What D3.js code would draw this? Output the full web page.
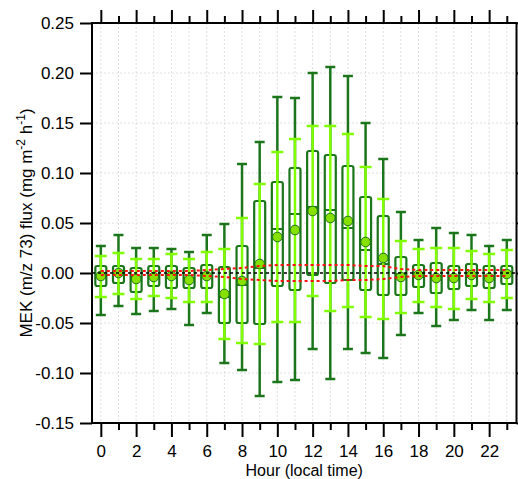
<!DOCTYPE html>
<html>
<head>
<meta charset="utf-8">
<script src="https://cdn.jsdelivr.net/npm/d3@7"></script>
<style>
  body { margin: 0; background: #fff; }
  svg { display: block; font-family: Arial, "Liberation Sans", sans-serif; }
</style>
</head>
<body>
<div id="chart"></div>
<script>
// hourly flux statistics (mg m-2 h-1)
var hours = [0,1,2,3,4,5,6,7,8,9,10,11,12,13,14,15,16,17,18,19,20,21,22,23];
var darkHigh = [0.027,0.038,0.025,0.025,0.024,0.021,0.038,0.049,0.109,0.131,0.176,0.175,0.200,0.206,0.197,0.150,0.114,0.061,0.033,0.045,0.040,0.038,0.027,0.033];
var limeHigh = [0.017,0.020,0.014,0.014,0.019,0.014,0.021,0.024,0.055,0.089,0.121,0.134,0.147,0.147,0.139,0.106,0.074,0.032,0.024,0.025,0.025,0.022,0.019,0.023];
var boxHigh = [0.007,0.007,0.005,0.007,0.007,0.005,0.008,0.006,0.027,0.072,0.091,0.105,0.122,0.118,0.107,0.076,0.057,0.016,0.008,0.010,0.007,0.009,0.007,0.007];
var medians = [-0.002,-0.001,-0.004,-0.003,-0.002,-0.005,-0.002,-0.024,-0.012,0.005,0.044,0.059,0.066,0.063,0.045,0.023,0.009,-0.001,-0.002,-0.003,-0.003,-0.002,-0.003,-0.001];
var boxLow = [-0.013,-0.010,-0.019,-0.013,-0.015,-0.015,-0.015,-0.050,-0.050,-0.051,-0.013,-0.017,-0.002,-0.010,-0.007,-0.017,-0.022,-0.022,-0.014,-0.020,-0.016,-0.013,-0.015,-0.011];
var limeLow = [-0.024,-0.021,-0.026,-0.023,-0.025,-0.029,-0.029,-0.066,-0.070,-0.071,-0.049,-0.049,-0.023,-0.038,-0.034,-0.044,-0.046,-0.040,-0.029,-0.034,-0.036,-0.026,-0.029,-0.025];
var darkLow = [-0.042,-0.033,-0.041,-0.038,-0.036,-0.052,-0.040,-0.090,-0.097,-0.123,-0.109,-0.107,-0.076,-0.106,-0.076,-0.080,-0.085,-0.062,-0.040,-0.053,-0.047,-0.037,-0.047,-0.037];
var means = [-0.003,0.000,-0.006,-0.004,-0.003,-0.007,-0.003,-0.021,-0.008,0.009,0.036,0.043,0.062,0.055,0.052,0.031,0.015,-0.004,-0.002,-0.005,-0.005,-0.002,-0.005,-0.001];
// detection limit band (red dotted)
var lodUpper = [0.002,0.002,0.002,0.002,0.002,0.002,0.003,0.004,0.005,0.007,0.008,0.008,0.008,0.008,0.008,0.007,0.007,0.004,0.003,0.003,0.003,0.003,0.003,0.003];
var lodLower = [-0.002,-0.002,-0.002,-0.002,-0.002,-0.002,-0.003,-0.004,-0.006,-0.007,-0.008,-0.008,-0.008,-0.008,-0.007,-0.007,-0.006,-0.004,-0.003,-0.003,-0.003,-0.003,-0.003,-0.003];
var yTicks = [-0.15,-0.10,-0.05,0.00,0.05,0.10,0.15,0.20,0.25];
var xMajor = [0,2,4,6,8,10,12,14,16,18,20,22];
var xMinor = [1,3,5,7,9,11,13,15,17,19,21,23];

(function() {
  var W = 518, H = 479,
      pl = 92, pr = 516.5, pt = 23, pb = 423;
  var dark = '#1b751b', lime = '#80ff00', meanFill = '#86e000';

  var x = d3.scaleLinear().domain([-0.5, 23.55]).range([pl, pr]);
  var y = d3.scaleLinear().domain([-0.15, 0.25]).range([pb, pt]);

  var svg = d3.select('#chart').append('svg')
      .attr('width', W)
      .attr('height', H);

  var data = hours.map(function(h, i) {
    return {h: h, dh: darkHigh[i], lh: limeHigh[i], q3: boxHigh[i], med: medians[i],
            q1: boxLow[i], ll: limeLow[i], dl: darkLow[i], mean: means[i]};
  });

  // grid
  var grid = svg.append('g').attr('stroke', '#dedede').attr('stroke-width', 1).attr('stroke-dasharray', '2,2');
  grid.selectAll('line.v').data(hours).enter().append('line')
    .attr('x1', function(d){ return x(d); }).attr('x2', function(d){ return x(d); })
    .attr('y1', pt).attr('y2', pb);
  grid.selectAll('line.h').data(yTicks).enter().append('line')
    .attr('x1', pl).attr('x2', pr)
    .attr('y1', function(d){ return y(d); }).attr('y2', function(d){ return y(d); });

  var fmt = d3.format('.2f');
  function label(d) { return fmt(d).replace('\u2212', '-'); }

  // axes
  function styleAxis(g) {
    g.select('.domain').remove();
    g.selectAll('.tick line').attr('stroke', '#000').attr('stroke-width', 2);
    g.selectAll('.tick text').attr('font-size', 17).attr('fill', '#000')
      .attr('font-family', 'Arial, "Liberation Sans", sans-serif');
  }
  svg.append('g').attr('transform', 'translate(' + pl + ',0)')
    .call(d3.axisLeft(y).tickValues(yTicks).tickSize(12).tickPadding(6).tickFormat(label))
    .call(styleAxis);
  svg.append('g').attr('transform', 'translate(' + pr + ',0)')
    .call(d3.axisRight(y).tickValues(yTicks).tickSize(6).tickFormat(''))
    .call(styleAxis);
  svg.append('g').attr('transform', 'translate(0,' + pb + ')')
    .call(d3.axisBottom(x).tickValues(xMajor).tickSize(14).tickPadding(8).tickFormat(d3.format('d')))
    .call(styleAxis);
  svg.append('g').attr('transform', 'translate(0,' + pb + ')')
    .call(d3.axisBottom(x).tickValues(xMinor).tickSize(7).tickFormat(''))
    .call(styleAxis);
  svg.append('g').attr('transform', 'translate(0,' + pt + ')')
    .call(d3.axisTop(x).tickValues(xMajor).tickSize(13).tickFormat(''))
    .call(styleAxis);
  svg.append('g').attr('transform', 'translate(0,' + pt + ')')
    .call(d3.axisTop(x).tickValues(xMinor).tickSize(7).tickFormat(''))
    .call(styleAxis);

  // boxes
  var g = svg.selectAll('g.hour').data(data).enter().append('g').attr('class', 'hour');
  var capD = 5, capL = 6, halfBox = 5.5;

  g.append('line').attr('stroke', dark).attr('stroke-width', 2.5)
    .attr('x1', function(d){ return x(d.h); }).attr('x2', function(d){ return x(d.h); })
    .attr('y1', function(d){ return y(d.dh); }).attr('y2', function(d){ return y(d.dl); });
  ['dh', 'dl'].forEach(function(k) {
    g.append('line').attr('stroke', dark).attr('stroke-width', 2.5)
      .attr('x1', function(d){ return x(d.h) - capD; }).attr('x2', function(d){ return x(d.h) + capD; })
      .attr('y1', function(d){ return y(d[k]); }).attr('y2', function(d){ return y(d[k]); });
  });

  g.append('rect').attr('fill', '#fff').attr('stroke', dark).attr('stroke-width', 2.2)
    .attr('rx', 2).attr('ry', 2)
    .attr('x', function(d){ return x(d.h) - halfBox; }).attr('width', halfBox * 2)
    .attr('y', function(d){ return y(d.q3); })
    .attr('height', function(d){ return y(d.q1) - y(d.q3); });

  g.append('line').attr('stroke', dark).attr('stroke-width', 2)
    .attr('x1', function(d){ return x(d.h) - halfBox; }).attr('x2', function(d){ return x(d.h) + halfBox; })
    .attr('y1', function(d){ return y(d.med); }).attr('y2', function(d){ return y(d.med); });

  g.append('line').attr('stroke', lime).attr('stroke-width', 2.5)
    .attr('x1', function(d){ return x(d.h); }).attr('x2', function(d){ return x(d.h); })
    .attr('y1', function(d){ return y(d.lh); }).attr('y2', function(d){ return y(d.ll); });
  ['lh', 'll'].forEach(function(k) {
    g.append('line').attr('stroke', lime).attr('stroke-width', 2.5)
      .attr('x1', function(d){ return x(d.h) - capL; }).attr('x2', function(d){ return x(d.h) + capL; })
      .attr('y1', function(d){ return y(d[k]); }).attr('y2', function(d){ return y(d[k]); });
  });

  // zero line
  svg.append('line').attr('stroke', '#000').attr('stroke-width', 1.5).attr('stroke-dasharray', '3,3')
    .attr('x1', pl).attr('x2', pr).attr('y1', y(0)).attr('y2', y(0));

  // detection limit lines
  var lod = d3.line().x(function(d, i){ return x(hours[i]); }).y(function(d){ return y(d); });
  [lodUpper, lodLower].forEach(function(arr) {
    svg.append('path').attr('d', lod(arr)).attr('fill', 'none')
      .attr('stroke', '#ff1010').attr('stroke-width', 2).attr('stroke-dasharray', '3,3');
  });

  // means
  g.append('circle').attr('r', 4.8).attr('fill', meanFill).attr('stroke', dark).attr('stroke-width', 1)
    .attr('cx', function(d){ return x(d.h); }).attr('cy', function(d){ return y(d.mean); });

  // frame
  svg.append('rect').attr('x', pl).attr('y', pt).attr('width', pr - pl).attr('height', pb - pt)
    .attr('fill', 'none').attr('stroke', '#000').attr('stroke-width', 2);

  // titles
  svg.append('text').attr('x', (pl + pr) / 2).attr('y', 475.5).attr('text-anchor', 'middle')
    .attr('font-size', 16).text('Hour (local time)');

  var yt = svg.append('text').attr('transform', 'translate(32,' + ((pt + pb) / 2) + ') rotate(-90)')
    .attr('text-anchor', 'middle').attr('font-size', 17);
  yt.append('tspan').text('MEK (m/z 73) flux (mg m');
  yt.append('tspan').attr('font-size', 12).attr('dy', -7).text('-2');
  yt.append('tspan').attr('dy', 7).text(' h');
  yt.append('tspan').attr('font-size', 12).attr('dy', -7).text('-1');
  yt.append('tspan').attr('dy', 7).text(')');
})();
</script>
</body>
</html>
